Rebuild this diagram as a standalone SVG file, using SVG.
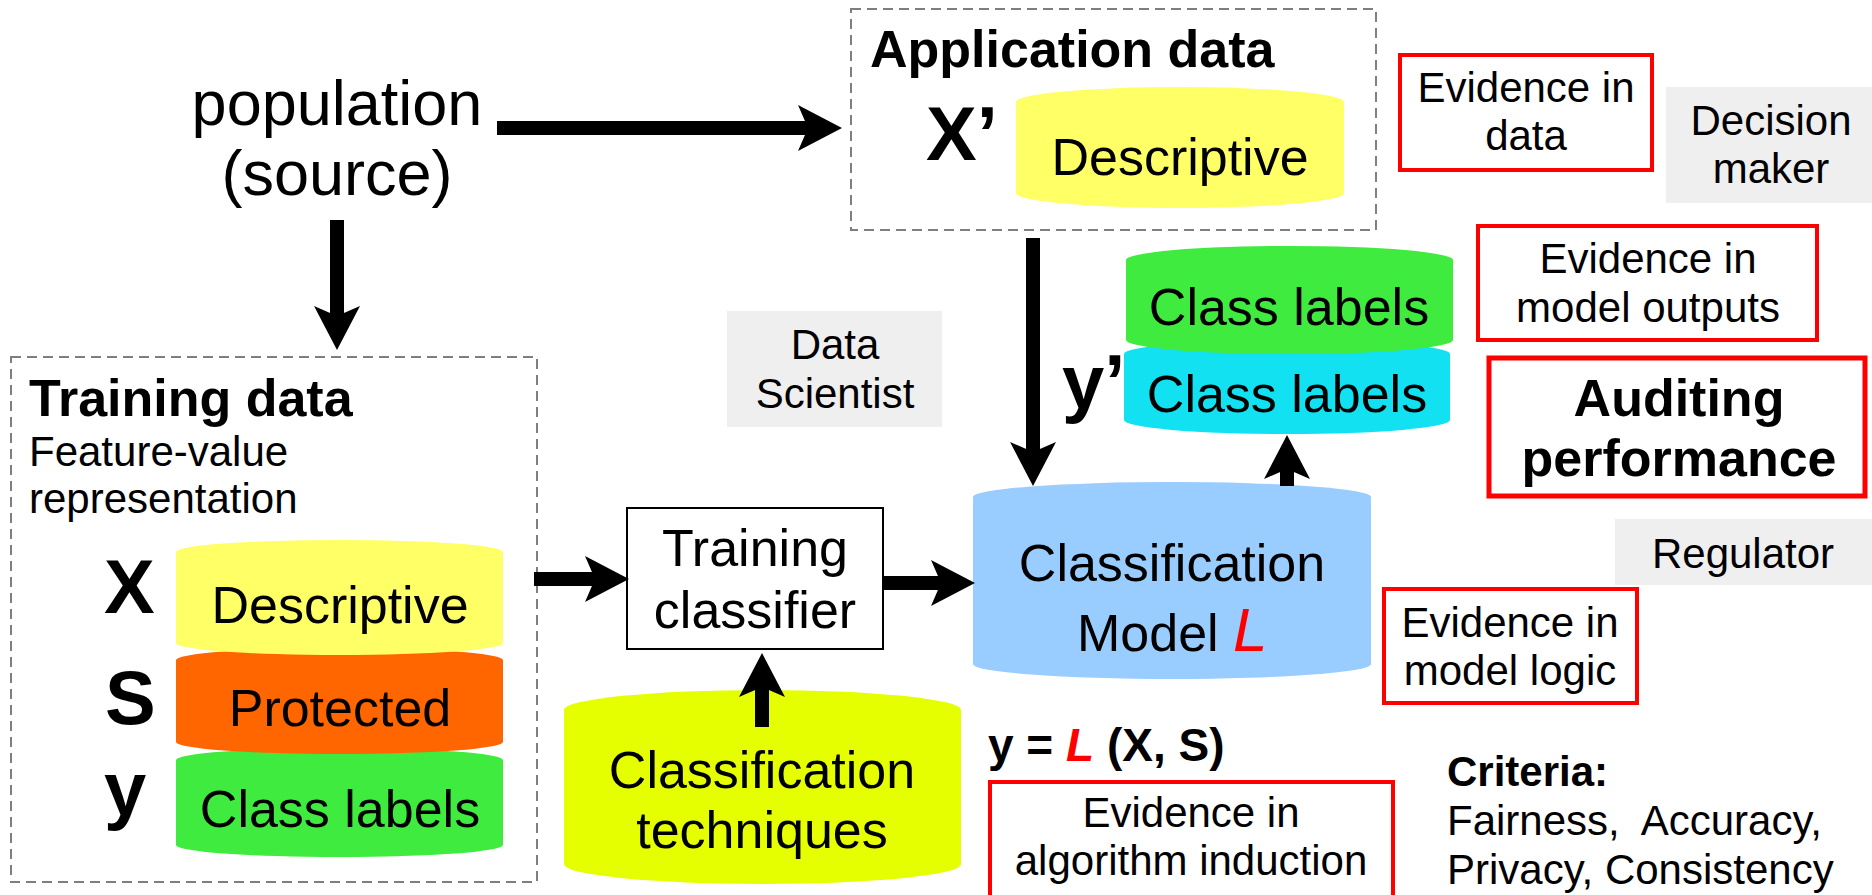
<svg xmlns="http://www.w3.org/2000/svg" width="1872" height="895" viewBox="0 0 1872 895">
  <style>
    text { font-family: "Liberation Sans", Arial, sans-serif; fill: #000; }
    .c { text-anchor: middle; }
    .big { font-size: 52px; }
    .mid { font-size: 42px; }
    .b { font-weight: bold; }
    .var { font-size: 76px; font-weight: bold; }
    .red { fill: #FF0000; font-style: italic; }
    .dash { fill: none; stroke: #7F7F7F; stroke-width: 2; stroke-dasharray: 10 6; }
    .ev { fill: #FFFFFF; stroke: #FF0000; stroke-width: 4; }
    .role { fill: #EFEFEF; }
    .arrow { stroke: #000; stroke-width: 14; fill: none; marker-end: url(#head); }
  </style>
  <defs>
    <marker id="head" markerUnits="userSpaceOnUse" viewBox="0 -23 44 46" markerWidth="44" markerHeight="46" refX="14" refY="0" orient="auto">
      <path d="M0,-23 L44,0 L0,23 L10,0 Z" fill="#000"/>
    </marker>
  </defs>

  <g id="population">
    <text class="c" x="337" y="125" font-size="63">population</text>
    <text class="c" x="337" y="195" font-size="63">(source)</text>
  </g>

  <g id="application-data">
    <rect class="dash" x="851" y="9" width="525" height="221"/>
    <text class="b" x="870" y="67" font-size="52">Application data</text>
    <text class="var" x="926" y="160">X’</text>
    <path d="M1016,102 A164,15 0 0 1 1344,102 V193 A164,15 0 0 1 1016,193 Z" fill="#FFFF66"/>
    <text class="c big" x="1180" y="175">Descriptive</text>
  </g>

  <g id="training-data">
    <rect class="dash" x="11" y="357" width="526" height="525"/>
    <text class="b" x="29" y="416" font-size="52">Training data</text>
    <text x="29" y="466" font-size="42">Feature-value</text>
    <text x="29" y="513" font-size="42">representation</text>
    <text class="var" x="104" y="613">X</text>
    <text class="var" x="105" y="724">S</text>
    <text class="var" x="104" y="815">y</text>
    <path d="M176,760 A163.5,12 0 0 1 503,760 V845 A163.5,12 0 0 1 176,845 Z" fill="#3EEB3E"/>
    <path d="M176,660 A163.5,12 0 0 1 503,660 V742 A163.5,12 0 0 1 176,742 Z" fill="#FF6600"/>
    <path d="M176,552 A163.5,12 0 0 1 503,552 V643 A163.5,12 0 0 1 176,643 Z" fill="#FFFF66"/>
    <text class="c big" x="340" y="623">Descriptive</text>
    <text class="c big" x="340" y="726">Protected</text>
    <text class="c big" x="340" y="827">Class labels</text>
  </g>

  <g id="data-scientist">
    <rect class="role" x="727" y="311" width="215" height="116"/>
    <text class="c mid" x="835" y="359">Data</text>
    <text class="c mid" x="835" y="408">Scientist</text>
  </g>

  <g id="training-classifier">
    <rect x="627" y="508" width="256" height="141" fill="#FFFFFF" stroke="#000" stroke-width="2"/>
    <text class="c big" x="755" y="566">Training</text>
    <text class="c big" x="755" y="628">classifier</text>
  </g>

  <g id="classification-techniques">
    <path d="M564,710 A198.5,20 0 0 1 961,710 V864 A198.5,20 0 0 1 564,864 Z" fill="#E6FF00"/>
    <text class="c big" x="762" y="788">Classification</text>
    <text class="c big" x="762" y="848">techniques</text>
  </g>

  <g id="classification-model">
    <path d="M973,497 A199,15 0 0 1 1371,497 V664 A199,15 0 0 1 973,664 Z" fill="#99CCFF"/>
    <text class="c big" x="1172" y="581">Classification</text>
    <text class="big" x="1077" y="651">Model <tspan class="red" font-size="62">L</tspan></text>
  </g>

  <g id="model-outputs">
    <text class="var" x="1062" y="408">y’</text>
    <path d="M1124,354 A163,14 0 0 1 1450,354 V420 A163,14 0 0 1 1124,420 Z" fill="#11E1F0"/>
    <path d="M1126,260 A163.5,14 0 0 1 1453,260 V340 A163.5,14 0 0 1 1126,340 Z" fill="#3EEB3E"/>
    <text class="c big" x="1289" y="325">Class labels</text>
    <text class="c big" x="1287" y="412">Class labels</text>
  </g>

  <g id="formula">
    <text class="b" x="988" y="761" font-size="46">y = <tspan class="red">L</tspan> (X, S)</text>
  </g>

  <g id="evidence-data">
    <rect class="ev" x="1400" y="55" width="252" height="115"/>
    <text class="c mid" x="1526" y="102">Evidence in</text>
    <text class="c mid" x="1526" y="150">data</text>
  </g>

  <g id="decision-maker">
    <rect class="role" x="1666" y="87" width="206" height="116"/>
    <text class="c mid" x="1771" y="135">Decision</text>
    <text class="c mid" x="1771" y="183">maker</text>
  </g>

  <g id="evidence-outputs">
    <rect class="ev" x="1478" y="226" width="339" height="114"/>
    <text class="c mid" x="1648" y="273">Evidence in</text>
    <text class="c mid" x="1648" y="322">model outputs</text>
  </g>

  <g id="auditing-performance">
    <rect x="1489" y="358" width="376" height="138" fill="#FFFFFF" stroke="#FF0000" stroke-width="5"/>
    <text class="c b big" x="1679" y="416">Auditing</text>
    <text class="c b big" x="1679" y="476">performance</text>
  </g>

  <g id="regulator">
    <rect class="role" x="1615" y="519" width="257" height="66"/>
    <text class="c mid" x="1743" y="568">Regulator</text>
  </g>

  <g id="evidence-logic">
    <rect class="ev" x="1384" y="589" width="253" height="114"/>
    <text class="c mid" x="1510" y="637">Evidence in</text>
    <text class="c mid" x="1510" y="685">model logic</text>
  </g>

  <g id="evidence-induction">
    <rect class="ev" x="990" y="782" width="403" height="130"/>
    <text class="c mid" x="1191" y="827">Evidence in</text>
    <text class="c mid" x="1191" y="875">algorithm induction</text>
  </g>

  <g id="criteria">
    <text class="mid b" x="1447" y="786">Criteria:</text>
    <text class="mid" x="1447" y="835" xml:space="preserve">Fairness,  Accuracy,</text>
    <text class="mid" x="1447" y="884">Privacy, Consistency</text>
  </g>

  <g id="connectors">
    <line class="arrow" x1="497" y1="128" x2="812" y2="128"/>
    <line class="arrow" x1="337" y1="220" x2="337" y2="320"/>
    <line class="arrow" x1="534" y1="579" x2="599" y2="579"/>
    <line class="arrow" x1="883" y1="583" x2="945" y2="583"/>
    <line class="arrow" x1="1033" y1="238" x2="1033" y2="456"/>
    <line class="arrow" x1="1287" y1="486" x2="1287" y2="465"/>
    <line class="arrow" x1="762" y1="727" x2="762" y2="683"/>
  </g>
</svg>
